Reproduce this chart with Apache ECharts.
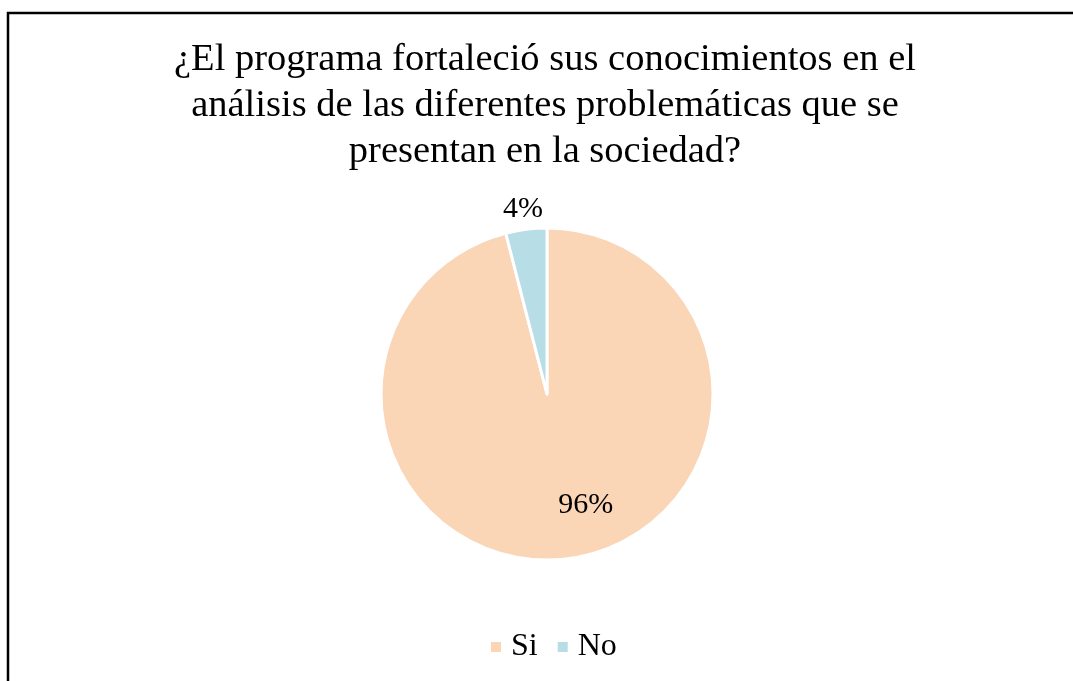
<!DOCTYPE html>
<html>
<head>
<meta charset="utf-8">
<script src="https://cdn.jsdelivr.net/npm/echarts@6/dist/echarts.min.js"></script>
<style>
html,body{margin:0;padding:0;background:#fff;}
#chart{width:1073px;height:681px;}
</style>
</head>
<body>
<div id="chart"></div>
<script>
const titleText = '¿El programa fortaleció sus conocimientos en el\nanálisis de las diferentes problemáticas que se\npresentan en la sociedad?';
const categories = ['Si', 'No'];
const values = [96, 4];
const colors = ['#FAD5B6', '#B7DDE7'];

const chart = echarts.init(document.getElementById('chart'), null, {renderer: 'canvas'});
const serif = '"Liberation Serif", "Times New Roman", serif';
chart.setOption({
  backgroundColor: '#ffffff',
  animation: false,
  title: {
    text: titleText,
    left: 540,
    textAlign: 'center',
    top: 32,
    textStyle: {fontFamily: serif, fontSize: 38.5, fontWeight: 'normal', color: '#000', lineHeight: 46}
  },
  legend: {
    data: categories,
    bottom: 18,
    left: 489,
    padding: 0,
    icon: 'rect',
    itemWidth: 12,
    itemHeight: 12,
    itemGap: 18,
    textStyle: {fontFamily: serif, fontSize: 32, color: '#000', padding: [0, 0, 0, 4]}
  },
  graphic: [{
    type: 'rect',
    shape: {x: 8, y: 13, width: 1200, height: 800},
    style: {fill: 'none', stroke: '#000', lineWidth: 2.5},
    silent: true
  }],
  series: [{
    type: 'pie',
    center: [547, 394],
    radius: 166,
    startAngle: 90,
    clockwise: true,
    itemStyle: {borderColor: '#fff', borderWidth: 3},
    label: {
      formatter: '{d}%',
      fontFamily: serif, fontSize: 30, color: '#000'
    },
    labelLine: {show: false, length: 10, length2: 0},
    labelLayout: function (p) {
      if (p.dataIndex === 0) return {dx: 28, dy: 26};
      return {dx: 23, dy: -10};
    },
    data: categories.map((c, i) => ({
      name: c,
      value: values[i],
      itemStyle: {color: colors[i]},
      label: {position: i === 0 ? 'inside' : 'outside'}
    }))
  }]
});
</script>
</body>
</html>
